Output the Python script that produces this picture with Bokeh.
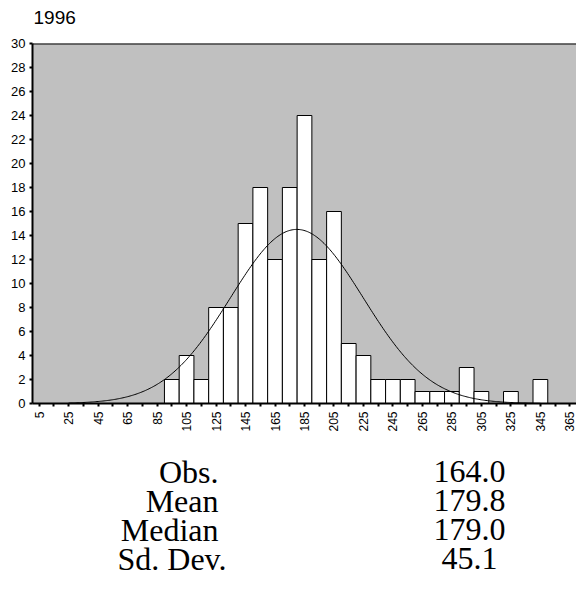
import numpy as np
from bokeh.plotting import figure
from bokeh.models import Range1d, FixedTicker, Span, ColumnDataSource
from bokeh.layouts import column
from bokeh.core.properties import value
from bokeh.embed import file_html
from bokeh.resources import INLINE

# ---- data ----
title_text = "1996"
bin_left = [90, 100, 110, 120, 130, 140, 150, 160, 170, 180, 190, 200, 210,
            220, 230, 240, 250, 260, 270, 280, 290, 300, 310, 320, 330, 340]
counts = [2, 4, 2, 8, 8, 15, 18, 12, 18, 24, 12, 16, 5,
          4, 2, 2, 2, 1, 1, 1, 3, 1, 0, 1, 0, 2]
bin_width = 10
x_ticks = list(range(5, 366, 10))
x_label_ticks = list(range(5, 366, 20))
y_ticks = list(range(0, 31, 2))
stat_names = ["Obs.", "Mean", "Median", "Sd. Dev."]
stat_values = [164.0, 179.8, 179.0, 45.1]
n_obs, mean, sd = stat_values[0], stat_values[1], stat_values[3]

LEFT = 32  # left border shared by all stacked figures (frames are aligned)


def blank_fig(h):
    f = figure(width=576, height=h, output_backend="svg", toolbar_location=None,
               x_range=Range1d(LEFT, 576), y_range=Range1d(0, h),
               x_axis_location=None, y_axis_location=None,
               min_border=0, min_border_left=LEFT, min_border_right=0,
               min_border_top=0, min_border_bottom=0)
    f.outline_line_color = None
    f.grid.visible = False
    f.background_fill_color = "white"
    f.border_fill_color = "white"
    return f


# ---- title strip ----
t = blank_fig(34)
t.text(x=[33], y=[17], text=[title_text], text_font=value("Liberation Sans"),
       text_font_size="19px", text_align="left", text_baseline="middle",
       text_color="black")

# ---- histogram figure ----
p = figure(width=576, height=406, output_backend="svg", toolbar_location=None,
           x_range=Range1d(0.5, 369.5), y_range=Range1d(0, 30),
           min_border_left=LEFT, min_border_right=0, min_border_top=9,
           min_border_bottom=37)
p.background_fill_color = "#c0c0c0"
p.border_fill_color = "white"
p.outline_line_color = None
p.grid.visible = False

src = ColumnDataSource(dict(left=bin_left,
                            right=[b + bin_width for b in bin_left],
                            top=counts))
p.quad(left="left", right="right", bottom=0, top="top", source=src,
       fill_color="white", line_color="black", line_width=1)

# fitted normal curve from the displayed statistics
xs = np.linspace(25, 345, 400)
ys = n_obs * bin_width / (sd * np.sqrt(2 * np.pi)) * np.exp(-0.5 * ((xs - mean) / sd) ** 2)
p.line(xs, ys, line_color="black", line_width=1)

p.add_layout(Span(location=30, dimension="width", line_color="black", line_width=2))

ax = p.xaxis[0]
ax.ticker = FixedTicker(ticks=x_ticks)
ax.major_label_overrides = {t_: (str(t_) if t_ in x_label_ticks else "") for t_ in x_ticks}
ax.major_label_orientation = np.pi / 2
ax.major_label_text_font = "Liberation Sans"
ax.major_label_text_font_size = "12px"
ax.major_label_text_color = "black"
ax.major_label_standoff = 5
ax.major_tick_in = 0
ax.major_tick_out = 3
ax.major_tick_line_width = 2
ax.minor_tick_line_color = None
ax.axis_line_width = 2
ax.axis_line_color = "black"

ay = p.yaxis[0]
ay.ticker = FixedTicker(ticks=y_ticks)
ay.major_label_text_font = "Liberation Sans"
ay.major_label_text_font_size = "13px"
ay.major_label_text_color = "black"
ay.major_label_standoff = 4
ay.major_tick_in = 0
ay.major_tick_out = 3
ay.major_tick_line_width = 2
ay.minor_tick_line_color = None
ay.axis_line_width = 2
ay.axis_line_color = "black"

# ---- statistics table ----
q = blank_fig(155)
row_y = [124, 95, 66, 37]
q.text(x=[218, 218, 218, 226], y=row_y, text=stat_names,
       text_font=value("Liberation Serif"), text_font_size="32px",
       text_align="right", text_baseline="middle", text_color="black")
q.text(x=[469] * 4, y=row_y, text=["%.1f" % v for v in stat_values],
       text_font=value("Liberation Serif"), text_font_size="32px",
       text_align="center", text_baseline="middle", text_color="black")

layout = column(t, p, q, spacing=0)
open("out.html", "w").write(file_html(layout, INLINE))
